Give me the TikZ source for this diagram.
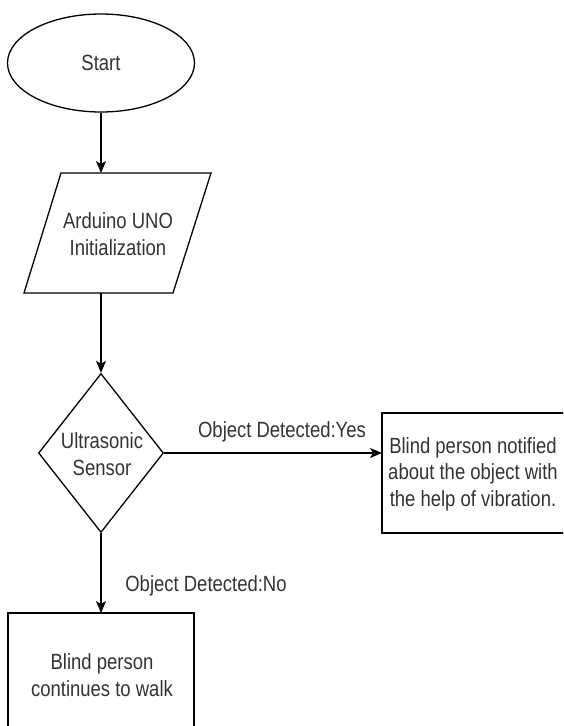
\documentclass[tikz,border=0pt]{standalone}
\usepackage{fontspec}
\setmainfont[FakeStretch=0.84]{Liberation Sans}
\usetikzlibrary{shapes.geometric,arrows.meta}
\definecolor{txtgray}{HTML}{333333}
\tikzset{
  shapeline/.style={draw=black, line width=1.3pt},
  txt/.style={text=txtgray, font=\fontsize{22}{27}\selectfont, align=center, inner sep=0pt},
  lbl/.style={text=txtgray, font=\fontsize{22}{27}\selectfont, inner sep=0pt},
  arr/.style={draw=black, line width=1.3pt, -{Stealth[length=12pt,width=10pt,inset=3pt]}}
}
\begin{document}
\begin{tikzpicture}[x=1pt,y=-1pt]
\useasboundingbox (0,0) rectangle (563,726);
\clip (0,0) rectangle (563,726);
% Start ellipse
\node[ellipse, shapeline, minimum width=187pt, minimum height=98pt, inner sep=0pt] (start) at (101,63) {};
\node[txt] (starttxt) at (101,63) {Start};
% Parallelogram
\draw[shapeline, line join=miter] (61,173) -- (211,173) -- (173,293) -- (24,293) -- cycle;
\coordinate (inittop) at (101,173);
\coordinate (initbot) at (101,293);
\node[txt] (init) at (118,234) {Arduino UNO\\Initialization};
% Diamond
\node[diamond, shapeline, minimum width=125pt, minimum height=159pt, inner sep=0pt] (sensor) at (101,453) {};
\node[txt] (sensortxt) at (102,454) {Ultrasonic\\Sensor};
% Right box
\draw[shapeline] (382,413) rectangle (566,533);
\coordinate (notifyleft) at (382,453);
\node[txt, font=\fontsize{22}{26.5}\selectfont] (notify) at (473,474) {Blind person notified\\about the object with\\the help of vibration.};
% Bottom box
\draw[shapeline] (8,613) rectangle (194,736);
\coordinate (walktop) at (101,613);
\node[txt] (walk) at (102,675) {Blind person\\continues to walk};
% Connectors
\draw[arr] (start.south) -- (inittop);
\draw[arr] (initbot) -- (sensor.north);
\draw[arr] (sensor.east) -- (notifyleft);
\draw[arr] (sensor.south) -- (walktop);
% Labels
\node[lbl] (yes) at (282,432) {Object Detected:Yes};
\node[lbl] (no) at (206,586) {Object Detected:No};
\end{tikzpicture}
\end{document}
